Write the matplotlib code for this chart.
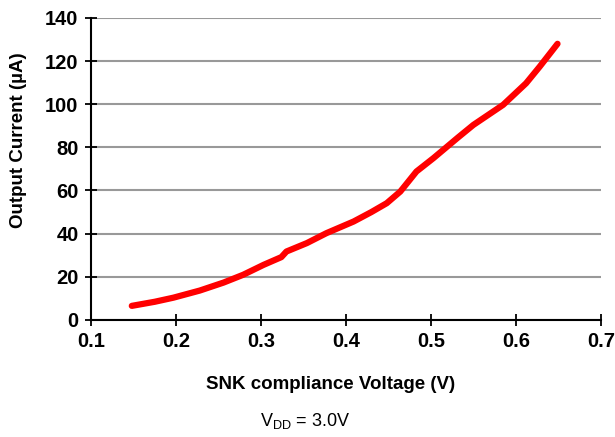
import matplotlib
matplotlib.use("Agg")
import matplotlib.pyplot as plt

# SNK compliance voltage (V) vs output current (uA)
voltage = [0.148, 0.175, 0.197, 0.228, 0.256, 0.279, 0.303, 0.324, 0.330,
           0.354, 0.377, 0.409, 0.430, 0.448, 0.464, 0.483, 0.503, 0.532,
           0.550, 0.585, 0.612, 0.628, 0.649]
current = [6.5, 8.4, 10.3, 13.6, 17.3, 20.9, 25.5, 29.1, 31.7,
           35.6, 40.2, 45.6, 50.0, 54.1, 59.5, 68.8, 75.0, 84.6,
           90.4, 99.7, 109.7, 117.4, 128.0]

x_ticks = [0.1, 0.2, 0.3, 0.4, 0.5, 0.6, 0.7]
y_ticks = [0, 20, 40, 60, 80, 100, 120, 140]

plt.rcParams['font.family'] = ['Liberation Sans', 'DejaVu Sans']

fig = plt.figure(figsize=(6.15, 4.37), dpi=100)
ax = fig.add_axes([0.148, 0.268, 0.829, 0.691])

ax.plot(voltage, current, color='#ff0000', linewidth=4.5,
        solid_capstyle='round', solid_joinstyle='round')

ax.set_xlim(0.1, 0.7)
ax.set_ylim(0, 140)
ax.set_xticks(x_ticks)
ax.set_yticks(y_ticks)
ax.set_xticklabels([f"{v:.1f}" for v in x_ticks], fontsize=14.5, fontweight='bold')
ax.set_yticklabels([str(v) for v in y_ticks], fontsize=14.5, fontweight='bold')
ax.tick_params(direction='inout', length=8, width=1.3, colors='black', pad=5)

ax.grid(axis='y', color='#999999', linewidth=1.5)
ax.set_axisbelow(True)
for side in ['top', 'right']:
    ax.spines[side].set_visible(False)
for side in ['left', 'bottom']:
    ax.spines[side].set_linewidth(1.5)

fig.text(0.537, 0.121, 'SNK compliance Voltage (V)', ha='center', va='center',
         fontsize=13.5, fontweight='bold')
fig.text(0.030, 0.68, 'Output Current (\u00b5A)', ha='center', va='center',
         rotation=90, fontsize=13.5, fontweight='bold')
fig.text(0.497, 0.037, r'V$_{\mathregular{DD}}$ = 3.0V', ha='center', va='center',
         fontsize=13)

fig.savefig('out.png', dpi=100)
